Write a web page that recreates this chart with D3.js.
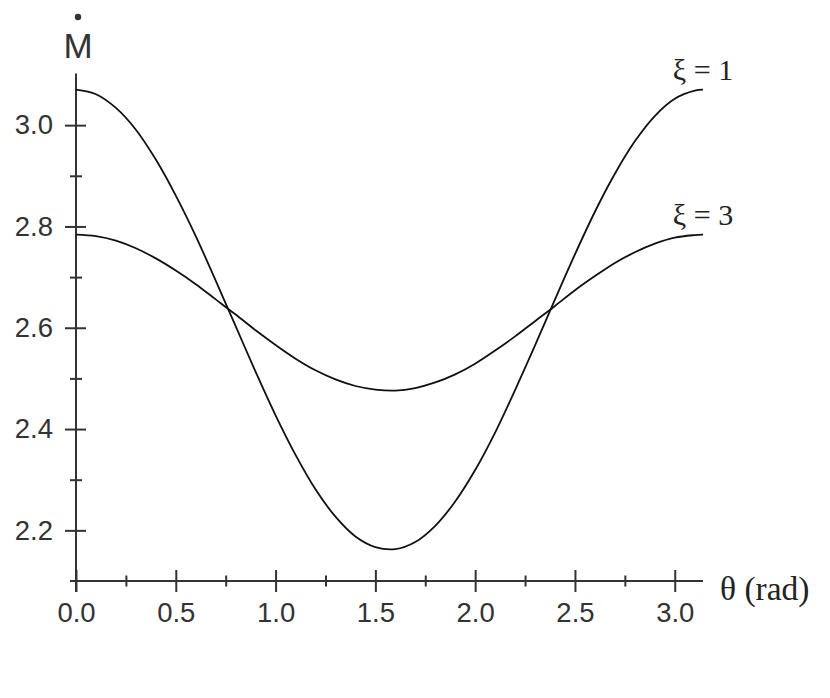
<!DOCTYPE html>
<html><head><meta charset="utf-8">
<script src="https://cdn.jsdelivr.net/npm/d3@7"></script>
<style>body{margin:0;background:#fff}</style>
</head><body>
<svg id="c" width="830" height="698"></svg>
<script>
const theta = [0,0.1,0.2,0.3,0.4,0.5,0.6,0.7,0.8,0.9,1.0,1.1,1.2,1.3,1.4,1.5,1.6,1.7,1.8,1.9,2.0,2.1,2.2,2.3,2.4,2.5,2.6,2.7,2.8,2.9,3.0,3.1,Math.PI];
const mXi1 = [3.070,3.061,3.034,2.991,2.932,2.861,2.781,2.693,2.603,2.513,2.427,2.349,2.281,2.227,2.188,2.167,2.163,2.177,2.209,2.257,2.319,2.393,2.477,2.565,2.656,2.745,2.829,2.904,2.968,3.018,3.052,3.068,3.070];
const mXi3 = [2.784,2.781,2.772,2.757,2.737,2.713,2.686,2.656,2.626,2.595,2.566,2.539,2.516,2.498,2.485,2.478,2.476,2.481,2.492,2.508,2.529,2.555,2.583,2.613,2.643,2.674,2.702,2.728,2.749,2.766,2.778,2.783,2.784];
const seriesLabels = ["ξ = 1","ξ = 3"];
const xMajor = [0,0.5,1.0,1.5,2.0,2.5,3.0];
const xMinor = [0.25,0.75,1.25,1.75,2.25,2.75];
const yMajor = [2.2,2.4,2.6,2.8,3.0];
const yMinor = [2.3,2.5,2.7,2.9];
const xTitle = "θ (rad)";
const yTitle = "M";

const svg = d3.select("#c");
const x = d3.scaleLinear().domain([0, Math.PI]).range([76, 703]);
const y = d3.scaleLinear().domain([2.1, 3.1]).range([581, 74.5]);
const axisCol = "#333";
const fmt = d3.format(".1f");

function styleAxis(g){ g.select(".domain").remove(); g.selectAll("line").attr("stroke",axisCol).attr("stroke-width",2); g.selectAll("text").attr("fill",axisCol).attr("font-family","'Liberation Sans', Arial, sans-serif").attr("font-size",27.5); }

// x axis
svg.append("g").attr("transform",`translate(0,${y(2.1)})`).call(d3.axisBottom(x).tickValues(xMajor).tickSize(11).tickPadding(10).tickFormat(fmt)).call(styleAxis);
svg.append("g").attr("transform",`translate(0,${y(2.1)})`).call(d3.axisTop(x).tickValues(xMajor).tickSize(11).tickFormat("")).call(styleAxis);
svg.append("g").attr("transform",`translate(0,${y(2.1)})`).call(d3.axisBottom(x).tickValues(xMinor).tickSize(5.5).tickFormat("")).call(styleAxis);
svg.append("g").attr("transform",`translate(0,${y(2.1)})`).call(d3.axisTop(x).tickValues(xMinor).tickSize(5.5).tickFormat("")).call(styleAxis);
// y axis
svg.append("g").attr("transform",`translate(${x(0)},0)`).call(d3.axisLeft(y).tickValues(yMajor).tickSize(11).tickPadding(12).tickFormat(fmt)).call(styleAxis);
svg.append("g").attr("transform",`translate(${x(0)},0)`).call(d3.axisRight(y).tickValues(yMajor).tickSize(10).tickFormat("")).call(styleAxis);
svg.append("g").attr("transform",`translate(${x(0)},0)`).call(d3.axisLeft(y).tickValues(yMinor).tickSize(6).tickFormat("")).call(styleAxis);
svg.append("g").attr("transform",`translate(${x(0)},0)`).call(d3.axisRight(y).tickValues(yMinor).tickSize(6).tickFormat("")).call(styleAxis);

// axis lines
svg.append("line").attr("x1",x(0)-6).attr("x2",x(Math.PI)).attr("y1",y(2.1)).attr("y2",y(2.1)).attr("stroke",axisCol).attr("stroke-width",2);
svg.append("line").attr("x1",x(0)).attr("x2",x(0)).attr("y1",y(2.1)+11).attr("y2",y(3.1)-1).attr("stroke",axisCol).attr("stroke-width",2);

// curves
const line = d3.line().x((d,i)=>x(theta[i])).y(d=>y(d)).curve(d3.curveCatmullRom);
[mXi1, mXi3].forEach(s=>{
  svg.append("path").datum(s).attr("d",line).attr("fill","none").attr("stroke","#111").attr("stroke-width",1.8);
});

// series labels
[mXi1, mXi3].forEach((s,i)=>{
  svg.append("text").attr("x",x(Math.PI)).attr("y",y(s[s.length-1])-10).attr("text-anchor","middle")
    .attr("font-family","'Liberation Serif', 'Times New Roman', serif").attr("font-size",30).attr("fill","#222").text(seriesLabels[i]);
});

// titles
svg.append("text").attr("x",720).attr("y",600).attr("font-family","'Liberation Serif', 'Times New Roman', serif").attr("font-size",33.5).attr("fill","#222").text(xTitle);
svg.append("text").attr("x",x(0)+2).attr("y",58).attr("text-anchor","middle").attr("font-family","'Liberation Sans', Arial, sans-serif").attr("font-size",35).attr("fill",axisCol).text(yTitle);
svg.append("circle").attr("cx",x(0)+2).attr("cy",17).attr("r",3.2).attr("fill",axisCol);
</script>
</body></html>
